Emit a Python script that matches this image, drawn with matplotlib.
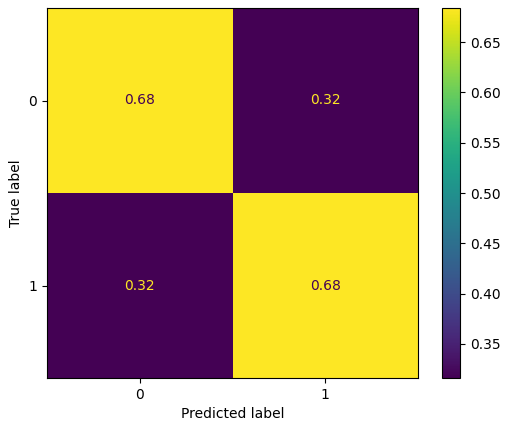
import numpy as np
import matplotlib
matplotlib.use("Agg")
import matplotlib.pyplot as plt

classes = ["0", "1"]
cm = np.array([[0.684, 0.316],
               [0.316, 0.684]])
cm_labels = [["0.68", "0.32"], ["0.32", "0.68"]]

W, H = 511, 432
fig = plt.figure(figsize=(W / 100, H / 100), dpi=100)
ax = fig.add_axes([47 / W, 1 - 378 / H, (418 - 47) / W, (378 - 8) / H])
cax = fig.add_axes([442 / W, 1 - 378 / H, (460 - 442) / W, (378 - 8) / H])

cmap = plt.get_cmap("viridis")
im = ax.imshow(cm, interpolation="nearest", cmap=cmap, aspect="auto")
cmap_min, cmap_max = im.cmap(0), im.cmap(1.0)
thresh = (cm.max() + cm.min()) / 2.0
for i in range(2):
    for j in range(2):
        color = cmap_max if cm[i, j] < thresh else cmap_min
        ax.text(j, i, cm_labels[i][j], ha="center", va="center", color=color, fontsize=10)

fig.colorbar(im, cax=cax)
ax.set_xticks(range(2), classes)
ax.set_yticks(range(2), classes)
ax.set_xlabel("Predicted label")
ax.set_ylabel("True label")
ax.set_ylim(1.5, -0.5)

fig.savefig("out.png", dpi=100)
